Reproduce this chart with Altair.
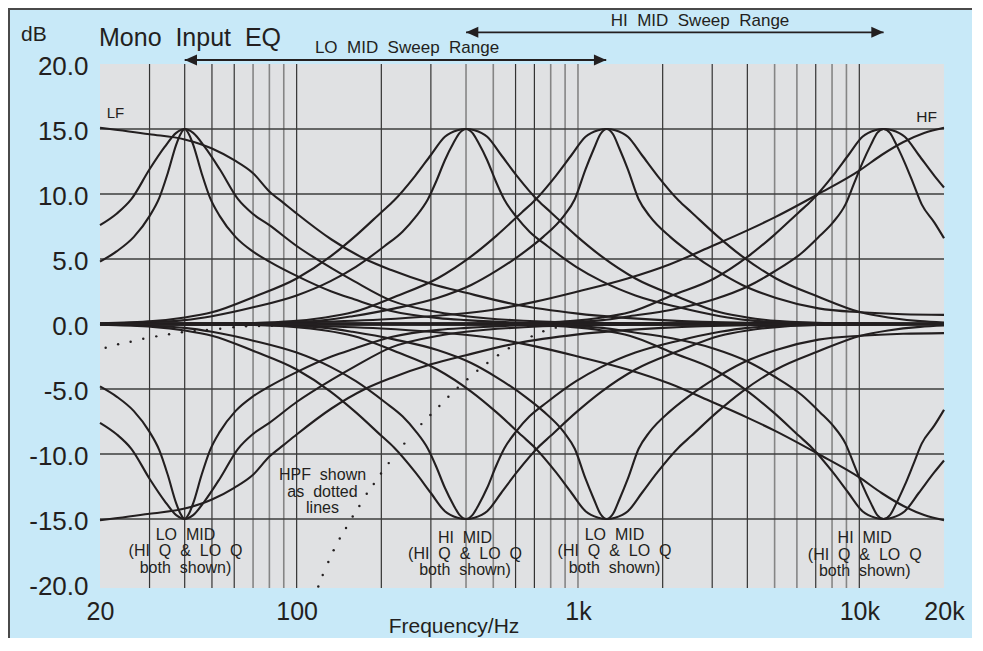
import altair as alt
import pandas as pd

INK = "#231f20"
FONT = "Liberation Sans"
BLUE = "#c8e9f8"
GRAY = "#e0e1e3"
S2 = "\u00a0\u00a0"

# ---------------- data ----------------
# boost curves (frequency in Hz, gain in dB); the cut curves are their mirror images
LF_F = [20, 30, 40, 50, 60, 70, 80, 90, 100, 133, 175, 217, 300, 400, 600, 1000, 2000, 4000, 20000]
LF_DB = [15.1, 14.6, 14.2, 13.5, 12.6, 11.6, 10.2, 9.3, 8.5, 6.5, 5.0, 4.15, 3.1, 2.4, 1.5, 0.8, 0.3, 0.1, 0]

HF_F = [20, 50, 100, 200, 300, 500, 700, 1000, 1500, 2125, 3000, 4000, 5000, 7155, 10000, 12000, 14350, 17000, 20000]
HF_DB = [0, 0.04, 0.12, 0.35, 0.6, 1.1, 1.7, 2.5, 3.5, 4.6, 6.0, 7.2, 8.2, 10.0, 11.8, 13.0, 14.0, 14.7, 15.1]

LOMID1_LOQ_F = [20, 22.97, 25.85, 30, 33.9, 37.32, 40, 42.87, 47.2, 53.3, 61.9, 69.6, 80, 100, 133, 160, 217,
                320, 400, 640, 1280, 20000]
LOMID1_LOQ_DB = [7.6, 8.5, 9.6, 11.9, 13.6, 14.7, 15, 14.7, 13.6, 11.9, 9.6, 8.5, 7.6, 6.0, 4.3, 3.3, 1.8,
                 0.9, 0.6, 0.25, 0.08, 0]

LOMID1_HIQ_F = [20, 22.97, 26.39, 30, 32.49, 34.82, 37.32, 38.64, 40, 41.41, 42.87, 45.95, 49.24, 53.3, 60.6,
                69.6, 80, 100, 133, 160, 217, 320, 400, 640, 1280, 20000]
LOMID1_HIQ_DB = [4.8, 5.6, 6.7, 8.3, 9.7, 11.6, 13.8, 14.6, 15, 14.6, 13.8, 11.6, 9.7, 8.3, 6.7,
                 5.6, 4.8, 3.7, 2.5, 1.9, 1.0, 0.45, 0.3, 0.1, 0.03, 0]

HIMID1_LOQ_F = [20, 30.8, 40, 50, 70.7, 100, 132, 162.4, 200, 221.9, 263.9, 300, 336.4, 373.2, 400, 428.7,
                475.7, 533.3, 606.3, 721, 800, 985, 1213, 1600, 2263, 3200, 4000, 5200, 8000, 20000]
HIMID1_LOQ_DB = [0.06, 0.22, 0.5, 0.9, 2.1, 3.5, 5.2, 6.8, 8.6, 9.5, 11.4, 13.0, 14.4, 14.9, 15, 14.9,
                 14.4, 13.0, 11.4, 9.5, 8.6, 6.8, 5.2, 3.5, 2.1, 0.9, 0.5, 0.22, 0.06, 0]

HIMID1_HIQ_F = [20, 30.8, 40, 50, 70.7, 100, 132, 162.4, 205.6, 237.8, 263.9, 292.8, 313.8, 336.4, 360.5, 379.7,
                400, 421.4, 443.8, 475.7, 509.8, 546.4, 606.3, 672.7, 778.1, 985, 1213, 1600, 2263, 3200, 4000,
                5200, 8000, 20000]
HIMID1_HIQ_DB = [0.05, 0.15, 0.3, 0.6, 1.3, 2.2, 3.3, 4.4, 6.0, 7.1, 8.2, 9.6, 11.0, 12.6, 13.9, 14.7,
                 15, 14.7, 13.9, 12.6, 11.0, 9.6, 8.2, 7.1, 6.0, 4.4, 3.3, 2.2, 1.3, 0.6, 0.3,
                 0.15, 0.05, 0]

LOMID2_LOQ_F = [20, 63.2, 97.3, 126.5, 158.1, 223.6, 316.3, 417.3, 513.7, 632.5, 701.8, 834.6, 948.8, 1063.7,
                1180.3, 1265, 1355.8, 1504.3, 1686.6, 1917.4, 2280, 2530, 3115, 3835, 5060, 7156, 10120, 12650,
                16445, 20000]
LOMID2_LOQ_DB = [0, 0.06, 0.22, 0.5, 0.9, 2.1, 3.5, 5.2, 6.8, 8.6, 9.5, 11.4, 13.0, 14.4,
                 14.9, 15, 14.9, 14.4, 13.0, 11.4, 9.5, 8.6, 6.8, 5.2, 3.5, 2.1, 0.9, 0.5,
                 0.22, 0.12]

LOMID2_HIQ_F = [20, 63.2, 97.3, 126.5, 158.1, 223.6, 316.3, 417.3, 513.7, 650.3, 752.2, 890, 974, 1063.7,
                1140, 1200.8, 1265, 1332.6, 1403.6, 1504.3, 1643, 1798, 2127.5, 2461, 3115,
                3835, 5060, 7156, 10120, 14300, 20000]
LOMID2_HIQ_DB = [0, 0.05, 0.15, 0.3, 0.6, 1.2, 2.0, 3.0, 4.1, 5.6, 6.7, 8.3, 9.6,
                 11.9, 13.5, 14.6, 15, 14.6, 13.5, 11.9, 9.6, 8.3, 6.7, 5.6, 4.1,
                 3.0, 2.0, 1.2, 0.9, 0.75, 0.7]

HIMID2_LOQ_F = [20, 381, 610, 938, 1221, 1525, 2157, 3050, 4025, 4955, 6100, 6768, 8049, 9151, 10259, 11383,
                12200, 13076, 14508, 16266, 18490, 20000]
HIMID2_LOQ_DB = [0, 0.02, 0.06, 0.22, 0.5, 0.9, 2.2, 3.5, 5.2, 6.8, 8.6, 9.5, 11.4, 13.0, 14.4, 14.9,
                 15, 14.9, 14.4, 13.0, 11.4, 10.5]

HIMID2_HIQ_F = [20, 610, 938, 1221, 1525, 2157, 3050, 4025, 4955, 6272, 7254, 8049, 8931, 9572, 10259, 11002,
                11581, 12200, 12851, 13537, 14508, 15560, 16666, 18490, 20000]
HIMID2_HIQ_DB = [0, 0.05, 0.15, 0.3, 0.6, 1.1, 1.9, 2.9, 4.0, 5.5, 6.8, 7.8, 9.2, 10.8, 12.4, 13.8,
                 14.7, 15, 14.7, 13.8, 12.4, 10.8, 9.2, 7.8, 6.6]

FLAT_F = [20, 20000]
FLAT_DB = [0, 0]

# HPF dotted lines (each dot)
HPF1_F = [20.95, 23.2, 25.7, 28.5, 31.7, 35.2, 39.1, 43.4, 48.0, 53.5, 59.6, 66.1, 73.5, 81.7]
HPF1_DB = [-1.82, -1.56, -1.36, -1.13, -0.95, -0.79, -0.64, -0.54, -0.46, -0.36, -0.25, -0.18, -0.15, -0.13]
HPF2_F = [119.4, 123.8, 129.6, 135.4, 142.3, 149.8, 158.2, 167.1, 177.5, 188.0, 199.5, 212.5, 241.4, 277.5,
          298.8, 321.6, 346.2, 373.8, 404.4, 438.8, 476.4, 519.8, 567.6, 684.8, 753.2, 833.8]
HPF2_DB = [-20.2, -19.3, -18.3, -17.4, -16.5, -15.7, -14.8, -14.0, -13.05, -12.3, -11.5, -10.7, -9.2, -7.7,
           -7.0, -6.3, -5.6, -4.9, -4.25, -3.6, -3.0, -2.4, -1.87, -0.95, -0.56, -0.28]

GRID_DARK = [30, 40, 50, 60, 100, 200, 300, 600, 700, 2000, 3000, 4000, 7000, 10000]
GRID_GRAY = [70, 80, 90, 400, 500, 800, 900, 1000, 5000, 6000, 8000, 9000]
GRID_DB = [-15, -10, -5, 0, 5, 10, 15]

X_TICKS = [20, 100, 1000, 10000, 20000]
Y_TICKS = [-20, -15, -10, -5, 0, 5, 10, 15, 20]

# sweep ranges (Hz)
LO_SWEEP = [40, 1260]
HI_SWEEP = [400, 12200]

# ---------------- tables ----------------
CURVES = [
    ("LF", LF_F, LF_DB), ("HF", HF_F, HF_DB),
    ("lm1lo", LOMID1_LOQ_F, LOMID1_LOQ_DB), ("lm1hi", LOMID1_HIQ_F, LOMID1_HIQ_DB),
    ("hm1lo", HIMID1_LOQ_F, HIMID1_LOQ_DB), ("hm1hi", HIMID1_HIQ_F, HIMID1_HIQ_DB),
    ("lm2lo", LOMID2_LOQ_F, LOMID2_LOQ_DB), ("lm2hi", LOMID2_HIQ_F, LOMID2_HIQ_DB),
    ("hm2lo", HIMID2_LOQ_F, HIMID2_LOQ_DB), ("hm2hi", HIMID2_HIQ_F, HIMID2_HIQ_DB),
]
rows = []
for name, fs, ds in CURVES:
    for f, d in zip(fs, ds):
        rows.append({"curve": name + "_boost", "f": f, "db": d})
        rows.append({"curve": name + "_cut", "f": f, "db": -d})
curves = pd.DataFrame(rows)
flat = pd.DataFrame({"f": FLAT_F, "db": FLAT_DB})
hpf = pd.DataFrame({"f": HPF1_F + HPF2_F, "db": HPF1_DB + HPF2_DB})
gdark = pd.DataFrame({"f": GRID_DARK})
ggray = pd.DataFrame({"f": GRID_GRAY})
gh = pd.DataFrame({"db": GRID_DB})
arrows = pd.DataFrame({"f": [LO_SWEEP[0], HI_SWEEP[0]], "f2": [LO_SWEEP[1], HI_SWEEP[1]], "row": ["lo", "hi"]})
LEFT_HEAD = "M0,0L2,-0.9L2,0.9Z"
RIGHT_HEAD = "M0,0L-2,-0.9L-2,0.9Z"
heads_lo = pd.DataFrame({"f": LO_SWEEP, "shape": [LEFT_HEAD, RIGHT_HEAD]})
heads_hi = pd.DataFrame({"f": HI_SWEEP, "shape": [LEFT_HEAD, RIGHT_HEAD]})
ONE = pd.DataFrame({"k": [0]})

# ---------------- scales / axes ----------------
xs = alt.Scale(type="log", domain=[20, 20000], nice=False)
ys = alt.Scale(domain=[-20, 20], nice=False)
xaxis = alt.Axis(values=X_TICKS, labelExpr="datum.value >= 1000 ? (datum.value / 1000) + 'k' : datum.value + ''",
                 labelFontSize=25, labelFont=FONT, labelColor=INK, labelPadding=15, ticks=False, domain=False,
                 grid=False, title="", labelFlush=False, labelOverlap=False)
yaxis = alt.Axis(values=Y_TICKS, labelExpr="(datum.value < 0 ? '-' : '') + format(abs(datum.value), '.1f')",
                 labelFontSize=26, labelFont=FONT, labelColor=INK, labelPadding=12, ticks=False, domain=False,
                 grid=False, title="", labelFlush=False, labelOverlap=False, labelOffset=2)
X = alt.X("f:Q", scale=xs, axis=xaxis)
Y = alt.Y("db:Q", scale=ys, axis=yaxis)

W, H = 844, 520

layers = []
# gray extension of plot background below -20
layers.append(alt.Chart(ONE).mark_rect(color=GRAY).encode(
    x=alt.value(0), x2=alt.value(W), y=alt.value(H - 1), y2=alt.value(H + 4)))
layers.append(alt.Chart(gdark).mark_rule(color="#333333", strokeWidth=1.2).encode(
    x=X, y=alt.value(0), y2=alt.value(H + 4)))
layers.append(alt.Chart(ggray).mark_rule(color="#858585", strokeWidth=1.6).encode(
    x=X, y=alt.value(0), y2=alt.value(H + 4)))
layers.append(alt.Chart(gh).mark_rule(color="#3c3c3c", strokeWidth=1.3).encode(y=Y))
layers.append(alt.Chart(flat).mark_line(color=INK, strokeWidth=3.4).encode(x=X, y=Y))
layers.append(alt.Chart(curves).mark_line(color=INK, strokeWidth=2.1, interpolate="monotone").encode(
    x=X, y=Y, detail="curve:N"))
layers.append(alt.Chart(hpf).mark_circle(color=INK, size=6, opacity=1).encode(x=X, y=Y))

# sweep range arrows
for df, hd, yy in [(arrows[arrows.row == "lo"], heads_lo, -4), (arrows[arrows.row == "hi"], heads_hi, -31.7)]:
    layers.append(alt.Chart(df).mark_rule(color=INK, strokeWidth=1.8).encode(
        x=X, x2="f2:Q", y=alt.value(yy)))
    layers.append(alt.Chart(hd).mark_point(filled=True, color=INK, size=151, opacity=1).encode(
        x=X, y=alt.value(yy), shape=alt.Shape("shape:N", scale=None, legend=None)))


def txt(s, x, y, size, align="center"):
    return alt.Chart(ONE).mark_text(font=FONT, fontSize=size, align=align, baseline="alphabetic",
                                    color=INK).encode(x=alt.value(x), y=alt.value(y), text=alt.value(s))


texts = [
    ("dB", -79, -23, 21, "left"),
    ("Mono" + S2 + "Input" + S2 + "EQ", -1, -18, 25, "left"),
    ("LO" + S2 + "MID" + S2 + "Sweep" + S2 + "Range", 307, -10.7, 17, "center"),
    ("HI" + S2 + "MID" + S2 + "Sweep" + S2 + "Range", 600, -38.3, 17, "center"),
    ("LF", 6.7, 54.3, 15, "left"),
    ("HF", 816.3, 57.7, 15.5, "left"),
    ("Frequency/Hz", 354, 569, 21, "center"),
    ("HPF" + S2 + "shown", 222.5, 416, 16, "center"),
    ("as" + S2 + "dotted", 222.5, 432.7, 16, "center"),
    ("lines", 222.5, 448.7, 16, "center"),
]
for cx, by, head in [(85.5, 476, "LO"), (365, 478.7, "HI"), (514.5, 476, "LO"), (764.7, 479.3, "HI")]:
    texts.append((head + S2 + "MID", cx, by, 16, "center"))
    texts.append(("(HI" + S2 + "Q" + S2 + "&" + S2 + "LO" + S2 + "Q", cx, by + 16.3, 16, "center"))
    texts.append(("both" + S2 + "shown)", cx, by + 32.6, 16, "center"))
for s, x, y, size, align in texts:
    layers.append(txt(s, x, y, size, align))

# frame border (top and left)
layers.append(alt.Chart(ONE).mark_rule(color="#4a4a4a", strokeWidth=2).encode(
    x=alt.value(-91), y=alt.value(-56), y2=alt.value(H + 60)))
layers.append(alt.Chart(ONE).mark_rule(color="#4a4a4a", strokeWidth=2).encode(
    x=alt.value(-92), x2=alt.value(W + 30), y=alt.value(-55)))

chart = alt.layer(*layers).properties(
    width=W, height=H,
    autosize=alt.AutoSizeParams(type="none"),
    padding={"left": 92, "top": 56, "right": 28, "bottom": 54},
    background=BLUE,
).configure_view(fill=GRAY, strokeWidth=0)

chart.save("out.html", embed_options={"renderer": "svg", "actions": False})
